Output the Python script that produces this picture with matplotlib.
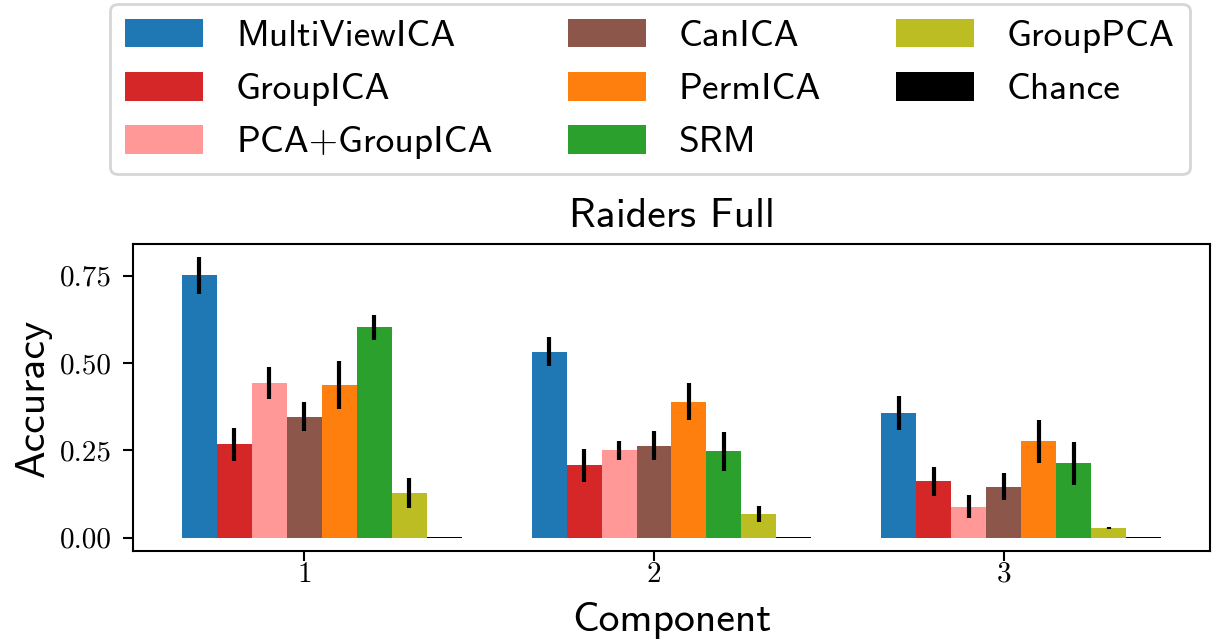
import numpy as np
import matplotlib
matplotlib.use("Agg")
import matplotlib.pyplot as plt

# values
components = [1, 2, 3]
methods = ["MultiViewICA", "GroupICA", "PCA+GroupICA", "CanICA",
           "PermICA", "SRM", "GroupPCA", "Chance"]
colors = ["#1f77b4", "#d62728", "#ff9896", "#8c564b",
          "#ff7f0e", "#2ca02c", "#bcbd22", "black"]

mean_mvica = [0.751, 0.533, 0.357]
mean_groupica = [0.268, 0.207, 0.161]
mean_pca_groupica = [0.444, 0.250, 0.089]
mean_canica = [0.347, 0.264, 0.146]
mean_permica = [0.438, 0.389, 0.276]
mean_srm = [0.603, 0.247, 0.213]
mean_grouppca = [0.127, 0.068, 0.028]
mean_chance = [0.003, 0.003, 0.003]

err_mvica = [0.054, 0.042, 0.048]
err_groupica = [0.047, 0.048, 0.042]
err_pca_groupica = [0.046, 0.028, 0.032]
err_canica = [0.042, 0.041, 0.038]
err_permica = [0.069, 0.053, 0.061]
err_srm = [0.036, 0.057, 0.062]
err_grouppca = [0.043, 0.024, 0.003]
err_chance = [0.0, 0.0, 0.0]

means = [mean_mvica, mean_groupica, mean_pca_groupica, mean_canica,
         mean_permica, mean_srm, mean_grouppca, mean_chance]
errs = [err_mvica, err_groupica, err_pca_groupica, err_canica,
        err_permica, err_srm, err_grouppca, err_chance]

W, H, DPI = 1212, 644, 100
fig = plt.figure(figsize=(W / DPI, H / DPI), dpi=DPI)
ax = fig.add_axes([133 / W, 1 - 551 / H, (1210 - 133) / W, (551 - 244) / H])

sans = "cmss10"
serif = "cmr10"
width = 0.1
x = np.array(components, dtype=float)
for i, (name, m, e, c) in enumerate(zip(methods, means, errs, colors)):
    ax.bar(x + (i - 3) * width, m, width, yerr=e, color=c, label=name,
           error_kw=dict(elinewidth=3, ecolor="black", capsize=0))

ax.set_ylim(-0.038, 0.841)
ax.set_xticks(components)
ax.set_xticklabels([str(c) for c in components], fontfamily=serif, fontsize=21)
yt = [0.0, 0.25, 0.5, 0.75]
ax.set_yticks(yt)
ax.set_yticklabels(["%.2f" % v for v in yt], fontfamily=serif, fontsize=21)
ax.tick_params(width=1.5, length=7)
ax.tick_params(axis="x", pad=0.5)
ax.tick_params(axis="y", pad=8)
for s in ax.spines.values():
    s.set_linewidth(1.5)

ax.set_xlabel("Component", fontfamily=sans, fontsize=30, labelpad=10)
ax.set_ylabel("Accuracy", fontfamily=sans, fontsize=30, labelpad=6)
ax.set_title("Raiders Full", fontfamily=sans, fontsize=30, pad=12)

handles, labels = ax.get_legend_handles_labels()
leg = fig.legend(handles, labels, ncol=3, loc="upper center",
                 bbox_to_anchor=(650 / W, 1.0), borderaxespad=0.1,
                 prop=dict(family=sans, size=27),
                 handlelength=2.08, handleheight=0.8, handletextpad=0.88,
                 columnspacing=2.0, labelspacing=0.5, borderpad=0.4)
leg.get_frame().set_linewidth(2)

fig.savefig("out.png", dpi=DPI)
